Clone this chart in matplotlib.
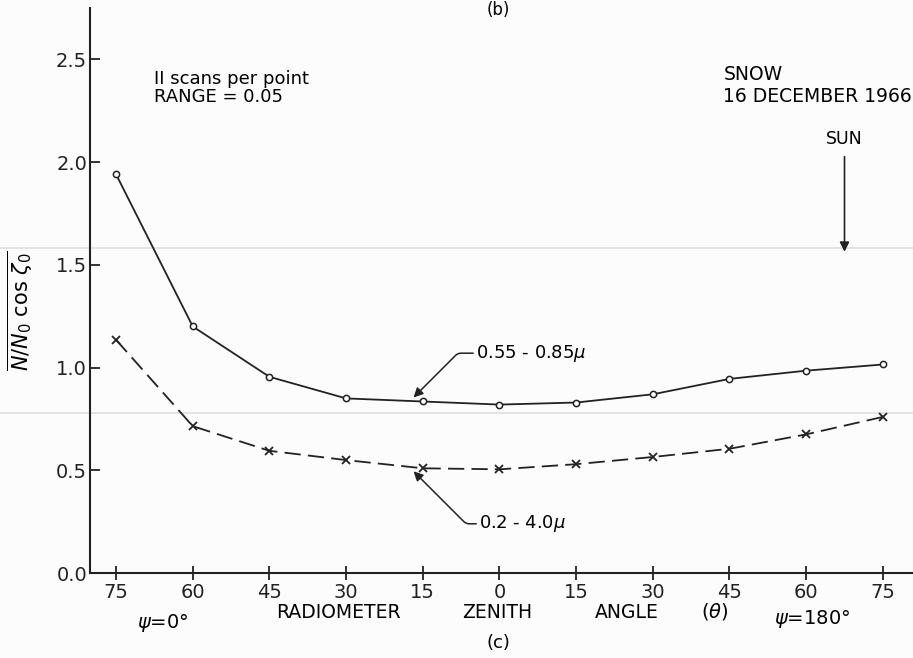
import matplotlib.pyplot as plt
from matplotlib.lines import Line2D

# kąt zenitalny radiometru: ujemny = strona psi=0, dodatni = strona psi=180
theta = [-75, -60, -45, -30, -15, 0, 15, 30, 45, 60, 75]
tick_labels = ['75', '60', '45', '30', '15', '0', '15', '30', '45', '60', '75']
y_red = [1.94, 1.20, 0.955, 0.85, 0.835, 0.82, 0.83, 0.87, 0.945, 0.985, 1.015]   # 0.55-0.85 mikrona
y_all = [1.135, 0.715, 0.595, 0.55, 0.51, 0.505, 0.53, 0.565, 0.605, 0.675, 0.76]  # 0.2-4.0 mikrona
sun_theta = 67.5

plt.rcParams['font.family'] = ['DejaVu Sans']
fig = plt.figure(figsize=(9.13, 6.58), dpi=100, facecolor='#fcfcfc')
ax = fig.add_axes([0.0986, 0.129, 0.9014, 0.859])
ax.patch.set_alpha(0)

# slabe szare linie ze skanu
for yy in [0.623, 0.372]:
    fig.add_artist(Line2D([0, 1], [yy, yy], color='#dedede', lw=1.2, zorder=0))

ax.plot(theta, y_red, color='#222222', lw=1.3, marker='o', ms=4.5,
        mfc='white', mec='#222222', mew=1.1)
ax.plot(theta, y_all, color='#222222', lw=1.3, ls=(0, (9, 4)), marker='x',
        ms=6, mew=1.3)

ax.set_xlim(-80.1, 80.9)
ax.set_ylim(0, 2.75)
ax.set_xticks(theta)
ax.set_xticklabels(tick_labels)
ax.set_yticks([0.0, 0.5, 1.0, 1.5, 2.0, 2.5])
ax.set_yticklabels(['0.0', '0.5', '1.0', '1.5', '2.0', '2.5'])
ax.tick_params(axis='both', labelsize=14, colors='#222222', width=1.3)
ax.tick_params(axis='y', direction='in', length=7, pad=2)
ax.tick_params(axis='x', direction='inout', length=10, pad=2)
for s in ['top', 'right']:
    ax.spines[s].set_visible(False)
for s in ['left', 'bottom']:
    ax.spines[s].set_linewidth(1.5)
    ax.spines[s].set_color('#222222')

fig.text(20 / 913, 1 - 311 / 658, r'$\overline{N/N_0\ \cos\,\zeta_0}$', fontsize=15,
         rotation=90, ha='center', va='center')

# opisy
ax.text(-67.5, 2.45, 'II scans per point\nRANGE = 0.05', fontsize=13,
        va='top', linespacing=1.05)
ax.text(43.8, 2.47, 'SNOW\n16 DECEMBER 1966', fontsize=13.5, va='top',
        linespacing=1.15)
ax.text(sun_theta, 2.07, 'SUN', fontsize=12.5, ha='center', va='bottom')
ax.annotate('', xy=(sun_theta, 1.55), xytext=(sun_theta, 2.04),
            arrowprops=dict(arrowstyle='-|>', color='#222222', lw=1.2,
                            mutation_scale=14))

ax.annotate(r'0.55 - 0.85$\mu$', xy=(-17.2, 0.845), xytext=(-4.6, 1.07),
            fontsize=13, va='center',
            arrowprops=dict(arrowstyle='-|>', color='#222222', lw=1.1,
                            mutation_scale=14, shrinkA=0,
                            connectionstyle='angle,angleA=0,angleB=45,rad=3'))
ax.annotate(r'0.2 - 4.0$\mu$', xy=(-17.2, 0.505), xytext=(-4.0, 0.24),
            fontsize=13, va='center',
            arrowprops=dict(arrowstyle='-|>', color='#222222', lw=1.1,
                            mutation_scale=14, shrinkA=0,
                            connectionstyle='angle,angleA=0,angleB=-45,rad=3'))

# podpisy osi x
fig.text(338 / 913, 1 - 612 / 658, 'RADIOMETER', fontsize=13.5, ha='center', va='center')
fig.text(497 / 913, 1 - 612 / 658, 'ZENITH', fontsize=13.5, ha='center', va='center')
fig.text(627 / 913, 1 - 612 / 658, 'ANGLE', fontsize=13.5, ha='center', va='center')
fig.text(715 / 913, 1 - 612 / 658, r'($\theta$)', fontsize=14, ha='center', va='center')
fig.text(163 / 913, 1 - 623 / 658, r'$\psi$=0°', fontsize=14, ha='center', va='center')
fig.text(812 / 913, 1 - 619 / 658, r'$\psi$=180°', fontsize=14, ha='center', va='center')
fig.text(498 / 913, 1 - 643 / 658, '(c)', fontsize=13, ha='center', va='center')
fig.text(498 / 913, 0.998, '(b)', fontsize=12, ha='center', va='top')

fig.savefig('out.png', dpi=100, facecolor=fig.get_facecolor())
